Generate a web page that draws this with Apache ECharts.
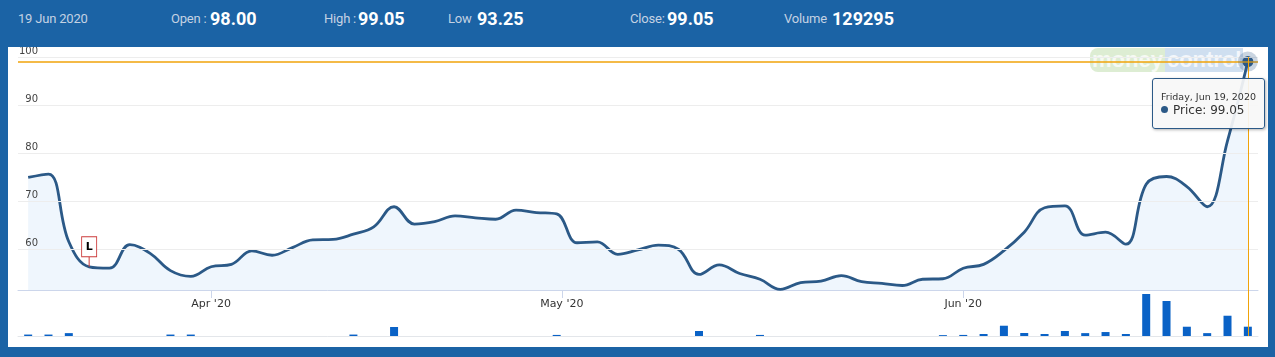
<!DOCTYPE html>
<html><head><meta charset="utf-8">
<script src="https://cdn.jsdelivr.net/npm/echarts@6/dist/echarts.min.js"></script>
<style>
html,body{margin:0;padding:0;}
body{width:1275px;height:357px;background:#1b63a5;position:relative;overflow:hidden;font-family:Roboto,sans-serif;}
.hl{position:absolute;top:11px;font-size:13px;color:#c4d2e3;line-height:16px;white-space:nowrap;letter-spacing:-0.2px;}
.hv{position:absolute;top:8px;font-size:18px;font-weight:700;color:#fff;line-height:21px;white-space:nowrap;}
#panel{position:absolute;left:8px;top:47px;width:1260px;height:300px;background:#fff;}
#wm{position:absolute;left:1090px;top:48px;height:24px;font:bold 22px 'Liberation Sans',Arial,sans-serif;line-height:24px;white-space:nowrap;opacity:0.7;}
#wm span{display:inline-block;padding:0 2px;}
#chart{position:absolute;left:8px;top:47px;width:1260px;height:300px;}
</style></head>
<body>
<div id="hdr"></div>
<div id="panel"></div>
<div id="wm"><span style="background:#cfe6c1;color:#f3f9ef;border-radius:8px 0 0 8px">money</span><span style="background:#bcd2ea;color:#eef4fb">control</span></div>
<div id="chart"></div>
<script>
// ---------- data ----------
const headerLabels = ['19 Jun 2020', 'Open :', 'High :', 'Low', 'Close:', 'Volume'];
const headerValues = ['', '98.00', '99.05', '93.25', '99.05', '129295'];

const dates = [
 '2020-03-19','2020-03-20','2020-03-23','2020-03-24','2020-03-25','2020-03-26','2020-03-27','2020-03-30','2020-03-31',
 '2020-04-01','2020-04-03','2020-04-07','2020-04-08','2020-04-09','2020-04-13','2020-04-15','2020-04-16','2020-04-17',
 '2020-04-20','2020-04-21','2020-04-22','2020-04-23','2020-04-24','2020-04-27','2020-04-28','2020-04-29','2020-04-30',
 '2020-05-04','2020-05-05','2020-05-06','2020-05-07','2020-05-08','2020-05-11','2020-05-12','2020-05-13','2020-05-14',
 '2020-05-15','2020-05-18','2020-05-19','2020-05-20','2020-05-21','2020-05-22','2020-05-26','2020-05-27','2020-05-28',
 '2020-05-29','2020-06-01','2020-06-02','2020-06-03','2020-06-04','2020-06-05','2020-06-08','2020-06-09','2020-06-10',
 '2020-06-11','2020-06-12','2020-06-15','2020-06-16','2020-06-17','2020-06-18','2020-06-19'
];
const price = [
 74.9, 75.6, 61.5, 56.3, 56.0, 60.9, 59.1, 55.5, 54.3,
 56.3, 56.8, 59.6, 58.7, 60.3, 61.9, 62.0, 63.1, 64.6,
 68.8, 65.2, 65.7, 66.9, 66.5, 66.2, 68.1, 67.6, 67.3,
 61.3, 61.5, 58.9, 59.8, 60.8, 59.9, 54.7, 56.7, 54.9,
 53.7, 51.6, 53.0, 53.3, 54.45, 53.2, 52.85, 52.4, 53.7,
 53.8, 56.0, 56.8, 59.65, 63.5, 68.6, 69.0, 62.9, 63.5,
 61.0, 73.5, 75.1, 73.0, 68.8, 82.55, 99.05
];
const volume = [
 20000, 20000, 40000, 0, 0, 0, 0, 20000, 20000,
 0, 0, 0, 0, 0, 0, 0, 20000, 0,
 125000, 0, 0, 0, 0, 0, 0, 0, 15000,
 0, 0, 0, 0, 0, 0, 70000, 0, 0,
 15000, 0, 0, 0, 0, 0, 0, 0, 0,
 12000, 15000, 28000, 143000, 42000, 28000, 70000, 40000, 55000,
 28000, 584000, 487000, 129000, 40000, 282000, 129295
];
const monthStarts = ['2020-04-01', '2020-05-01', '2020-06-01'];
const monthLabels = ["Apr '20", "May '20", "Jun '20"];
const yTicks = [60, 70, 80, 90, 100];
const flagIndex = 3;
const flagText = 'L';
const seriesName = 'Price';

// ---------- header ----------
const labelLeft = [18, 171, 324, 448, 630, 784];
const valueLeft = [0, 210, 358, 477, 667, 832];
const hdr = document.getElementById('hdr');
headerLabels.forEach((t, i) => {
  const l = document.createElement('span'); l.className = 'hl'; l.style.left = labelLeft[i] + 'px'; l.textContent = t; hdr.appendChild(l);
  if (headerValues[i]) {
    const v = document.createElement('span'); v.className = 'hv'; v.style.left = valueLeft[i] + 'px'; v.textContent = headerValues[i]; hdr.appendChild(v);
  }
});

// ---------- ordinal month tick positions ----------
function ordinalPos(ms) {
  const t = Date.parse(ms);
  for (let i = 1; i < dates.length; i++) {
    const a = Date.parse(dates[i - 1]), b = Date.parse(dates[i]);
    if (t <= b) return i - 1 + (t - a) / (b - a);
  }
  return dates.length - 1;
}
const monthPos = monthStarts.map(ordinalPos);

const last = price.length - 1;
const LINE = '#2b5987';
const ORANGE = '#f0a30a';
const WD = ['Sunday','Monday','Tuesday','Wednesday','Thursday','Friday','Saturday'];
const MN = ['Jan','Feb','Mar','Apr','May','Jun','Jul','Aug','Sep','Oct','Nov','Dec'];
function fmtDate(s) {
  const d = new Date(s + 'T00:00:00');
  return WD[d.getDay()] + ', ' + MN[d.getMonth()] + ' ' + d.getDate() + ', ' + d.getFullYear();
}
const pointerStyle = {type: 'line', lineStyle: {color: ORANGE, width: 1, type: 'solid'}, label: {show: false}};

const chart = echarts.init(document.getElementById('chart'), null, {renderer: 'canvas'});
chart.setOption({
  animation: false,
  textStyle: {fontFamily: 'DejaVu Sans'},
  axisPointer: {link: [{xAxisIndex: [0, 1]}]},
  grid: [
    {left: 10, right: 10, top: 10, height: 233, outerBoundsMode: 'none'},
    {left: 10, right: 10, top: 243, height: 46, outerBoundsMode: 'none'}
  ],
  xAxis: [
    {type: 'category', gridIndex: 0, data: dates, boundaryGap: true, position: 'bottom', axisPointer: pointerStyle,
     axisLine: {lineStyle: {color: '#ccd6eb', width: 1}}, axisTick: {show: false}, axisLabel: {show: false}, splitLine: {show: false}},
    {type: 'category', gridIndex: 1, data: dates, boundaryGap: true, position: 'bottom', axisPointer: pointerStyle,
     axisLine: {lineStyle: {color: '#e3e6ea', width: 1}}, axisTick: {show: false}, axisLabel: {show: false}, splitLine: {show: false}},
    {type: 'value', gridIndex: 0, min: -0.5, max: dates.length - 0.5, position: 'bottom', z: 5,
     axisLine: {show: false}, splitLine: {show: false}, axisPointer: {show: false},
     axisTick: {show: true, customValues: monthPos, length: 8, lineStyle: {color: '#ccd6eb'}},
     axisLabel: {customValues: monthPos, margin: 9, fontSize: 11, color: '#333',
       formatter: v => { const j = monthPos.findIndex(p => Math.abs(p - v) < 1e-6); return j >= 0 ? monthLabels[j] : ''; }}}
  ],
  yAxis: [
    {type: 'value', gridIndex: 0, min: 51.46, max: 100, z: 5, axisPointer: {show: false},
     axisLine: {show: false}, axisTick: {show: false, customValues: yTicks},
     axisLabel: {inside: true, customValues: yTicks, align: 'right', verticalAlign: 'bottom', margin: 20, fontSize: 10, color: '#444', padding: [0, 0, 1, 0]},
     splitLine: {show: true, lineStyle: {color: '#ededed', width: 1}}},
    {type: 'value', gridIndex: 1, min: 0, max: 640000, axisPointer: {show: false},
     axisLine: {show: false}, axisTick: {show: false}, axisLabel: {show: false}, splitLine: {show: false}}
  ],
  tooltip: {
    trigger: 'axis', triggerOn: 'none', alwaysShowContent: true, transitionDuration: 0,
    position: [1144, 31],
    backgroundColor: 'rgba(247,247,247,0.92)', borderColor: LINE, borderWidth: 1, padding: [11, 8, 10, 8],
    extraCssText: 'box-shadow:1px 1px 3px rgba(0,0,0,0.3);border-radius:3px;',
    axisPointer: {type: 'line', lineStyle: {color: ORANGE, width: 1, type: 'solid'}, label: {show: false}},
    formatter: params => {
      const p = params.find(q => q.seriesIndex === 0) || params[0];
      return '<div style="font:9.5px \'DejaVu Sans\';color:#333;line-height:13px">' + fmtDate(dates[p.dataIndex]) + '</div>' +
        '<div style="font:12px \'DejaVu Sans\';color:#333;line-height:15px"><span style="display:inline-block;width:7px;height:7px;border-radius:50%;background:' + LINE + ';margin-right:5px;vertical-align:1px"></span>' +
        seriesName + ': ' + p.value.toFixed(2) + '</div>';
    }
  },
  series: [
    {type: 'line', name: seriesName, xAxisIndex: 0, yAxisIndex: 0, data: price, smooth: 0.4,
     symbol: 'circle', showSymbol: true, symbolSize: (v, p) => p.dataIndex === last ? 10 : 0,
     lineStyle: {color: LINE, width: 2.8}, itemStyle: {color: LINE},
     areaStyle: {color: '#eff6fd', opacity: 1}, emphasis: {disabled: true}, z: 3,
     markLine: {
       silent: true, animation: false, symbol: 'none', label: {show: false}, emphasis: {disabled: true},
       lineStyle: {color: ORANGE, width: 1.7, type: 'solid', opacity: 1},
       data: [{yAxis: price[last], lineStyle: {color: ORANGE, width: 1.7, type: 'solid', opacity: 1}}]
     },
     markPoint: {
       silent: true, animation: false,
       data: [
         {coord: [dates[last], price[last]], symbol: 'circle', symbolSize: 20, itemStyle: {color: 'rgba(43,89,135,0.25)'}, label: {show: false}},
         {coord: [dates[flagIndex], price[flagIndex]], symbol: 'rect', symbolSize: [1, 10], symbolOffset: [0, -5], itemStyle: {color: '#cc3b3b'}, label: {show: false}},
         {coord: [dates[flagIndex], price[flagIndex]], symbol: 'rect', symbolSize: [15, 20], symbolOffset: [0, -20],
          itemStyle: {color: '#ffffff', borderColor: '#cc3b3b', borderWidth: 1},
          label: {show: true, formatter: flagText, position: 'inside', color: '#000', fontWeight: 'bold', fontSize: 11, fontFamily: 'DejaVu Sans'}}
       ]
     }},
    {type: 'bar', name: 'Volume', xAxisIndex: 1, yAxisIndex: 1, data: volume, barWidth: 8,
     itemStyle: {color: '#0a62c6'}, emphasis: {disabled: true}}
  ]
});
chart.dispatchAction({type: 'showTip', seriesIndex: 0, dataIndex: last});
</script>
</body></html>
